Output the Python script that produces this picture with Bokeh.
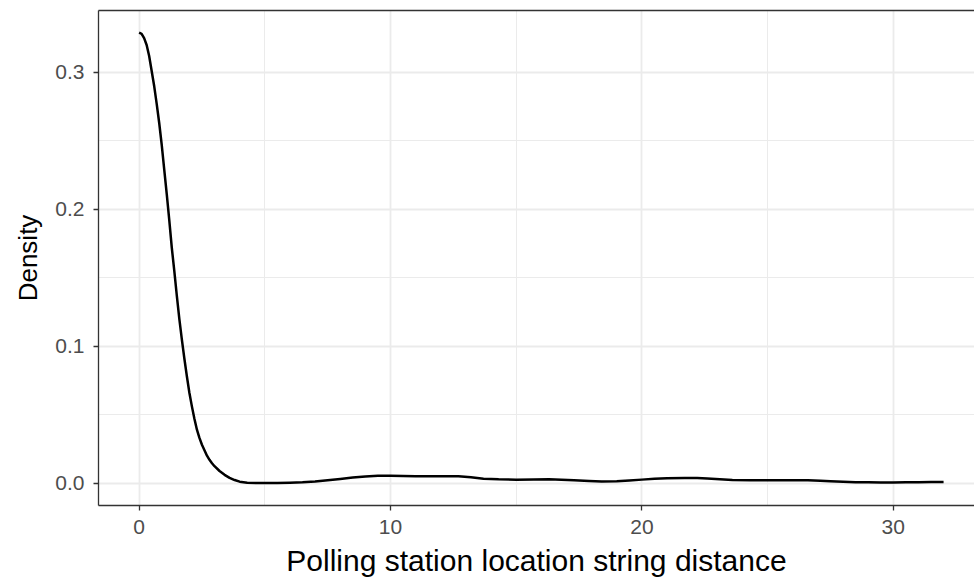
from bokeh.plotting import figure
from bokeh.models import Range1d, LinearAxis, FixedTicker
from bokeh.embed import file_html
from bokeh.resources import INLINE

# Density curve
dist_x = [0.0, 0.1, 0.2, 0.3, 0.4, 0.5, 0.6, 0.7, 0.8, 0.9, 1.0, 1.1, 1.2, 1.3,
          1.4, 1.5, 1.6, 1.7, 1.8, 1.9, 2.0, 2.1, 2.2, 2.3, 2.4, 2.5, 2.6, 2.7,
          2.8, 2.9, 3.0, 3.2, 3.4, 3.6, 3.8, 4.0, 4.3, 4.7, 5.0, 5.5, 6.0, 6.5,
          7.0, 7.6, 8.0, 8.5, 9.0, 9.5, 10.0, 10.5, 11.0, 11.7, 12.3, 12.7, 13.2,
          13.7, 14.3, 15.0, 15.7, 16.3, 16.8, 17.3, 17.9, 18.4, 19.0, 19.5, 20.0,
          20.5, 21.0, 21.7, 22.2, 22.6, 23.1, 23.6, 24.3, 25.0, 25.8, 26.6, 27.1,
          27.5, 28.0, 28.5, 29.0, 29.5, 30.0, 30.5, 31.0, 31.5, 32.0]
density_y = [0.329, 0.3282, 0.325, 0.320, 0.312, 0.301, 0.290, 0.277, 0.263,
             0.247, 0.229, 0.211, 0.192, 0.172, 0.155, 0.137, 0.120, 0.105,
             0.091, 0.078, 0.066, 0.056, 0.047, 0.039, 0.033, 0.028, 0.024,
             0.020, 0.017, 0.0145, 0.0123, 0.0088, 0.0060, 0.0038, 0.0022,
             0.0010, 0.0003, 0.0, 0.0, 0.0, 0.0002, 0.0005, 0.0011, 0.0022,
             0.0030, 0.0040, 0.0048, 0.0053, 0.0054, 0.0052, 0.0050, 0.0049,
             0.0050, 0.0049, 0.0042, 0.0032, 0.0027, 0.0025, 0.0026, 0.0027,
             0.0025, 0.0020, 0.0015, 0.0012, 0.0013, 0.0018, 0.0025, 0.0031,
             0.0035, 0.0037, 0.0036, 0.0033, 0.0028, 0.0023, 0.0021, 0.0020,
             0.0020, 0.0020, 0.0017, 0.0013, 0.0009, 0.0006, 0.0005, 0.0004,
             0.0004, 0.0005, 0.0006, 0.0007, 0.0007]

x_ticks = [0, 10, 20, 30]
x_minor = [5, 15, 25]
y_ticks = [0.0, 0.1, 0.2, 0.3]
y_minor = [0.05, 0.15, 0.25]
y_tick_labels = {0.0: "0.0", 0.1: "0.1", 0.2: "0.2", 0.3: "0.3"}

FONT = "Liberation Sans"

p = figure(width=974, height=583, output_backend="svg", toolbar_location=None,
           x_range=Range1d(-1.615, 33.23), y_range=Range1d(-0.0164, 0.3452),
           min_border_left=98, min_border_right=0, min_border_top=10,
           min_border_bottom=78)
p.outline_line_color = None
p.background_fill_color = "white"
p.border_fill_color = "white"

# grids
p.xgrid.ticker = FixedTicker(ticks=x_ticks, minor_ticks=x_minor)
p.ygrid.ticker = FixedTicker(ticks=y_ticks, minor_ticks=y_minor)
for g in (p.xgrid[0], p.ygrid[0]):
    g.grid_line_color = "#ebebeb"
    g.grid_line_width = 1.8
    g.minor_grid_line_color = "#ebebeb"
    g.minor_grid_line_width = 1.0

# axes
xa = p.xaxis[0]
xa.ticker = FixedTicker(ticks=x_ticks)
ya = p.yaxis[0]
ya.ticker = FixedTicker(ticks=y_ticks)
ya.major_label_overrides = y_tick_labels
for ax in (xa, ya):
    ax.axis_line_color = "#333333"
    ax.axis_line_width = 1.3
    ax.major_tick_line_color = "#333333"
    ax.major_tick_line_width = 1.3
    ax.major_tick_out = 5
    ax.major_tick_in = 0
    ax.minor_tick_line_color = None
    ax.major_label_text_font = FONT
    ax.major_label_text_font_size = "21px"
    ax.major_label_text_color = "#4d4d4d"
    ax.axis_label_text_font = FONT
    ax.axis_label_text_font_style = "normal"
    ax.axis_label_text_color = "black"
xa.axis_label = "Polling station location string distance"
ya.axis_label = "Density"
xa.axis_label_text_font_size = "30px"
ya.axis_label_text_font_size = "26px"
xa.major_label_standoff = 9
ya.major_label_standoff = 9
xa.axis_label_standoff = 7
ya.axis_label_standoff = 9

# top border line
top = LinearAxis(ticker=FixedTicker(ticks=[]), major_label_text_font_size="0px",
                 axis_line_color="#333333", axis_line_width=1.3,
                 major_tick_line_color=None, minor_tick_line_color=None)
p.add_layout(top, "above")

p.line(dist_x, density_y, line_color="black", line_width=2.5,
       line_join="round")

open("out.html", "w").write(file_html(p, INLINE))
